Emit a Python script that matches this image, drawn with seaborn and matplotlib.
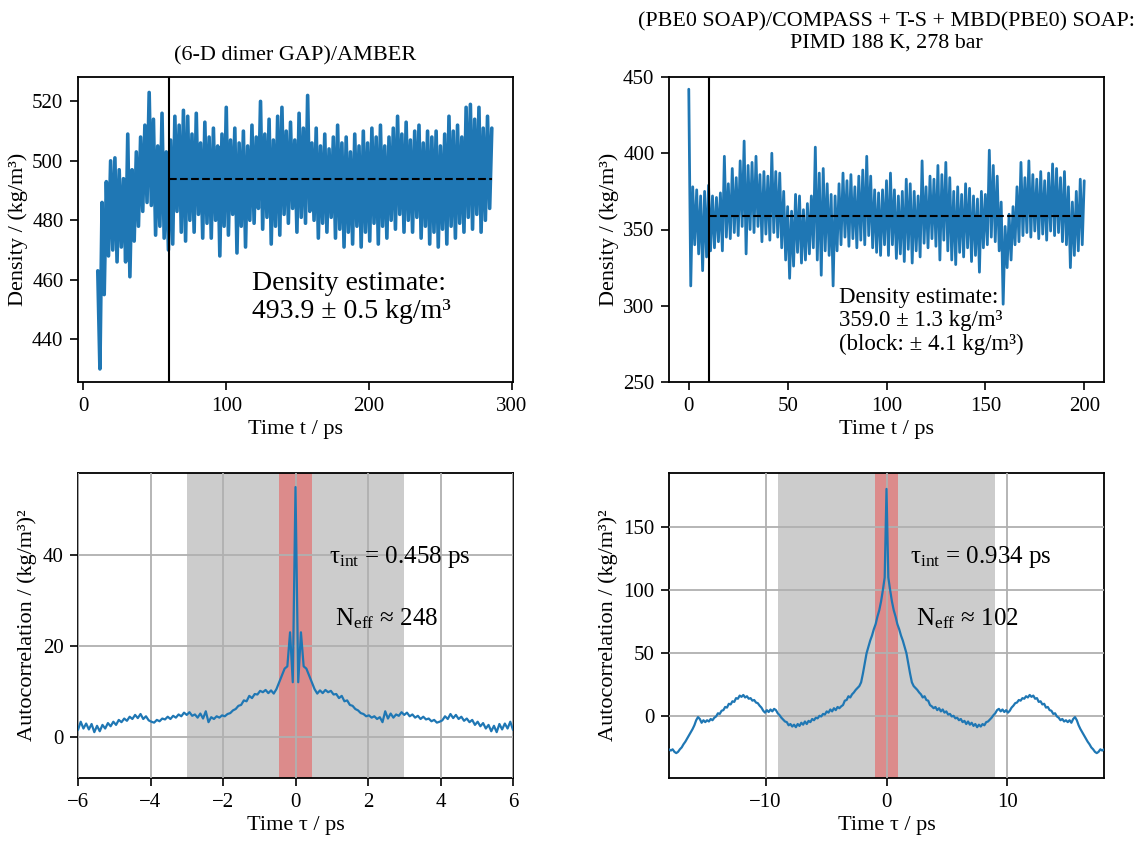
import matplotlib
matplotlib.use("Agg")
import matplotlib.pyplot as plt
import numpy as np
import pandas as pd
import seaborn as sns

sns.set_style("ticks")
plt.rcParams['font.family'] = ['Liberation Serif', 'DejaVu Serif']
plt.rcParams['mathtext.fontset'] = 'custom'
plt.rcParams['mathtext.rm'] = 'Liberation Serif'
plt.rcParams['mathtext.it'] = 'Liberation Serif:italic'
plt.rcParams['text.color'] = 'black'
plt.rcParams['axes.labelcolor'] = 'black'
plt.rcParams['axes.linewidth'] = 1.3
plt.rcParams['axes.edgecolor'] = 'black'
plt.rcParams['xtick.color'] = 'black'
plt.rcParams['ytick.color'] = 'black'
plt.rcParams['xtick.labelcolor'] = 'black'
plt.rcParams['ytick.labelcolor'] = 'black'
plt.rcParams['xtick.major.width'] = 1.2
plt.rcParams['ytick.major.width'] = 1.2
plt.rcParams['xtick.major.size'] = 5.5
plt.rcParams['ytick.major.size'] = 5.5
plt.rcParams['xtick.major.pad'] = 5.5
plt.rcParams['ytick.major.pad'] = 5

BLUE = '#1f77b4'

# ---- density traces (upper / lower excursions) ----
# left run: upper peaks every 3 ps from t=10, lower troughs every 3 ps from t=11.5
amber_hi = [463, 486, 493, 500, 501, 497, 494, 509, 497, 503, 508, 512, 523, 514, 505, 516,
            503, 507, 515, 512, 517, 515, 509, 516, 506, 513, 508, 511, 505, 509, 518, 507,
            511, 506, 510, 505, 512, 508, 520, 509, 514, 507, 515, 518, 510, 513, 507, 516,
            511, 522, 506, 511, 505, 509, 504, 508, 512, 506, 508, 503, 509, 505, 510, 506,
            511, 508, 512, 505, 508, 511, 515, 509, 513, 507, 510, 512, 506, 510, 508, 510,
            505, 509, 515, 510, 512, 508, 518, 519, 514, 518, 511, 515, 511]
amber_lo = [430, 455, 468, 470, 466, 471, 466, 461, 473, 478, 483, 486, 485, 475, 478, 474,
            470, 472, 483, 476, 473, 480, 476, 482, 474, 479, 474, 480, 468, 478, 475, 482,
            469, 478, 471, 480, 479, 484, 477, 481, 472, 478, 475, 482, 479, 484, 476, 481,
            479, 483, 480, 474, 479, 476, 481, 474, 477, 471, 476, 472, 478, 471, 476, 473,
            479, 472, 478, 474, 480, 477, 482, 476, 480, 476, 481, 474, 478, 472, 476, 471,
            477, 472, 478, 474, 479, 476, 481, 477, 482, 476, 480, 484]
amber_t0, amber_dt = 10.0, 3.0

# right run: upper peaks every 2 ps from t=0, lower troughs every 2 ps from t=1
pimd_hi = [442, 378, 376, 372, 375, 379, 372, 371, 374, 398, 380, 390, 384, 395, 408, 392,
           394, 398, 386, 388, 385, 400, 388, 387, 375, 365, 362, 373, 372, 363, 367, 372,
           404, 387, 390, 380, 373, 372, 380, 387, 382, 386, 378, 385, 389, 398, 385, 376,
           374, 376, 382, 387, 376, 372, 375, 383, 380, 375, 372, 395, 378, 385, 383, 392,
           386, 394, 384, 375, 378, 373, 380, 377, 372, 370, 375, 373, 402, 392, 385, 368,
           352, 360, 365, 378, 394, 384, 395, 386, 383, 388, 382, 387, 393, 390, 384, 388,
           378, 368, 375, 383, 382]
pimd_lo = [313, 340, 334, 323, 332, 336, 338, 342, 336, 345, 344, 348, 346, 352, 334, 350,
           348, 352, 342, 347, 343, 348, 345, 338, 330, 318, 326, 335, 328, 330, 334, 338,
           330, 320, 336, 333, 313, 336, 340, 345, 339, 344, 338, 343, 340, 346, 338, 335,
           333, 340, 333, 340, 331, 334, 329, 337, 328, 336, 332, 341, 338, 344, 339, 330,
           343, 336, 330, 327, 335, 332, 338, 329, 333, 322, 338, 340, 345, 342, 336, 301,
           325, 330, 340, 342, 346, 348, 345, 349, 344, 347, 343, 349, 346, 348, 342, 340,
           325, 333, 336, 340]
pimd_t0, pimd_dt = 0.0, 2.0

# equilibration cut and mean density
amber_cut, amber_mean = 60, 493.9
pimd_cut, pimd_mean = 10, 359.0

# ---- autocorrelation (tau >= 0 half; the function is symmetric) ----
amber_acf_dtau = 0.075
amber_acf = [55, 12, 23, 15.5, 15, 13.5, 12, 10.5, 9.5, 10.2, 9.6, 10.3, 9.8, 10.1, 9.3, 9.4,
             8.5, 9.0, 7.8, 8.0, 7.0, 6.8, 6.1, 5.8, 5.2, 5.0, 4.5, 4.7, 4.2, 4.5, 3.9, 4.3,
             3.2, 5.6, 4.0, 5.1, 4.2, 4.9, 4.6, 5.4, 4.8, 5.3, 4.5, 4.9, 4.2, 4.6, 3.9, 4.4,
             3.8, 4.0, 3.4, 3.7, 3.1, 3.3, 3.6, 4.5, 3.9, 5.0, 4.1, 4.8, 3.9, 4.4, 3.5, 4.0,
             3.2, 3.7, 2.6, 3.3, 2.3, 3.0, 1.8, 2.6, 1.2, 2.4, 1.0, 2.8, 1.6, 2.9, 1.8, 3.3, 1.5]
amber_tau_int, amber_window, amber_neff = 0.458, 3.0, 248

pimd_acf_dtau = 0.15
pimd_acf = [180, 110, 100, 91, 84, 79, 73, 69, 64, 60, 55, 50, 42, 34, 27, 24, 22.5, 21, 19,
            17.5, 15, 16, 13, 12.5, 9, 8, 6.5, 7.5, 5, 6.5, 4, 5.5, 3, 4, 1.5, 2, 0, 0.5, -1.5,
            -1, -3, -2, -4.5, -3.5, -6, -4, -6.5, -5, -7.5, -6, -8.5, -6.5, -8, -6, -7, -4.5,
            -4, -2.5, -1, 1, 2.5, 5, 6, 4, 5.5, 3.5, 5, 3, 4.5, 7, 8.5, 10.5, 11, 13, 12.5,
            14.5, 14, 16, 15, 17, 15.5, 16.5, 14, 14.5, 11.5, 12, 9.5, 10, 7, 7.5, 5, 4.5, 2,
            2.5, 0, -1, -3, -2, -4, -3, -4.5, -3, -5, -2, -0.5, -3, -7, -10, -12.5, -15, -17.5,
            -20, -22, -24.5, -26, -28, -29, -28, -26, -27, -26]
pimd_tau_int, pimd_window, pimd_neff = 0.934, 9.0, 102


def trace_frame(hi, lo, t0, dt):
    t_hi = t0 + dt * np.arange(len(hi))
    t_lo = t0 + dt / 2 + dt * np.arange(len(lo))
    df = pd.DataFrame({'t': np.concatenate([t_hi, t_lo]),
                       'rho': np.concatenate([hi, lo])})
    return df.sort_values('t').reset_index(drop=True)


def acf_frame(half, dtau):
    half = np.asarray(half, dtype=float)
    tau = dtau * np.arange(len(half))
    return pd.DataFrame({'tau': np.concatenate([-tau[:0:-1], tau]),
                         'acf': np.concatenate([half[:0:-1], half])})


W, H = 1138, 842
fig = plt.figure(figsize=(W / 100, H / 100), dpi=100)


def rect(x0, y0, x1, y1):
    return [x0 / W, 1 - y1 / H, (x1 - x0) / W, (y1 - y0) / H]


ax1 = fig.add_axes(rect(78, 77, 513, 382))
ax2 = fig.add_axes(rect(669, 77, 1104, 382))
ax3 = fig.add_axes(rect(78, 473, 513, 778))
ax4 = fig.add_axes(rect(669, 473, 1104, 778))

FS = 16    # titles and axis labels
TFS = 15   # tick labels

# ---- top left ----
d1 = trace_frame(amber_hi, amber_lo, amber_t0, amber_dt)
sns.lineplot(data=d1, x='t', y='rho', ax=ax1, color=BLUE, lw=2.6, estimator=None)
ax1.axvline(amber_cut, color='k', lw=1.5)
ax1.hlines(amber_mean, amber_cut, d1['t'].max(), colors='k', linestyles='--', lw=1.5, zorder=3)
ax1.set_xlim(-3.85, 300.85)
ax1.set_ylim(425.6, 528.2)
ax1.set_xticks([0, 100, 200, 300])
ax1.set_yticks([440, 460, 480, 500, 520])
ax1.text(118, 454, 'Density estimate:\n493.9 ± 0.5 kg/m³', fontsize=20,
         va='center', ha='left', linespacing=1.2)
ax1.set_title('(6-D dimer GAP)/AMBER', fontsize=FS, pad=12)
ax1.set_ylabel('Density / (kg/m³)', fontsize=FS, labelpad=3)
ax1.set_xlabel('Time t / ps', fontsize=FS, labelpad=3)

# ---- top right ----
d2 = trace_frame(pimd_hi, pimd_lo, pimd_t0, pimd_dt)
sns.lineplot(data=d2, x='t', y='rho', ax=ax2, color=BLUE, lw=2.0, estimator=None)
ax2.axvline(pimd_cut, color='k', lw=1.5)
ax2.hlines(pimd_mean, pimd_cut, d2['t'].max(), colors='k', linestyles='--', lw=1.5, zorder=3)
ax2.set_xlim(-10, 210)
ax2.set_ylim(250, 450)
ax2.set_xticks([0, 50, 100, 150, 200])
ax2.set_yticks([250, 300, 350, 400, 450])
ax2.text(76, 290, 'Density estimate:\n359.0 ± 1.3 kg/m³\n(block: ± 4.1 kg/m³)',
         fontsize=16.5, va='center', ha='left', linespacing=1.15)
ax2.set_title('(PBE0 SOAP)/COMPASS + T-S + MBD(PBE0) SOAP:\nPIMD 188 K, 278 bar',
              fontsize=15.8, pad=21, linespacing=1.2)
ax2.set_ylabel('Density / (kg/m³)', fontsize=FS, labelpad=3)
ax2.set_xlabel('Time t / ps', fontsize=FS, labelpad=3)


def acf_panel(ax, df, window, tau_int, neff, xlim, ylim, xticks, yticks, tpos, npos):
    ax.axvspan(-window, window, color='#cccccc', lw=0, zorder=0)
    ax.axvspan(-tau_int, tau_int, color='#dc8b8b', lw=0, zorder=0.5)
    ax.grid(True, color='#b0b0b0', lw=1.3, zorder=1)
    ax.set_axisbelow(False)
    sns.lineplot(data=df, x='tau', y='acf', ax=ax, color=BLUE, lw=1.6, estimator=None, zorder=3)
    ax.set_xlim(*xlim)
    ax.set_ylim(*ylim)
    ax.set_xticks(xticks)
    ax.set_yticks(yticks)
    ax.text(tpos[0], tpos[1], r'$\mathrm{τ_{int}}$ = %.3f ps' % tau_int, fontsize=18,
            va='center', ha='left')
    ax.text(npos[0], npos[1], r'$\mathrm{N_{eff}}$ ≈ %d' % neff, fontsize=18,
            va='center', ha='left')
    ax.set_xlabel('Time τ / ps', fontsize=FS, labelpad=3)
    ax.set_ylabel('Autocorrelation / (kg/m³)²', fontsize=FS, labelpad=4)


acf_panel(ax3, acf_frame(amber_acf, amber_acf_dtau), amber_window, amber_tau_int, amber_neff,
          (-6, 6), (-9.1, 58.1), [-6, -4, -2, 0, 2, 4, 6], [0, 20, 40], (0.93, 39.6), (1.1, 26.1))
acf_panel(ax4, acf_frame(pimd_acf, pimd_acf_dtau), pimd_window, pimd_tau_int, pimd_neff,
          (-18, 18), (-48.7, 192.6), [-10, 0, 10], [0, 50, 100, 150], (1.94, 126), (2.45, 77.6))

for ax in (ax1, ax2, ax3, ax4):
    ax.tick_params(labelsize=TFS, direction='out', colors='black')
    for s in ax.spines.values():
        s.set_visible(True)
        s.set_color('black')

fig.savefig('out.png', dpi=100)
